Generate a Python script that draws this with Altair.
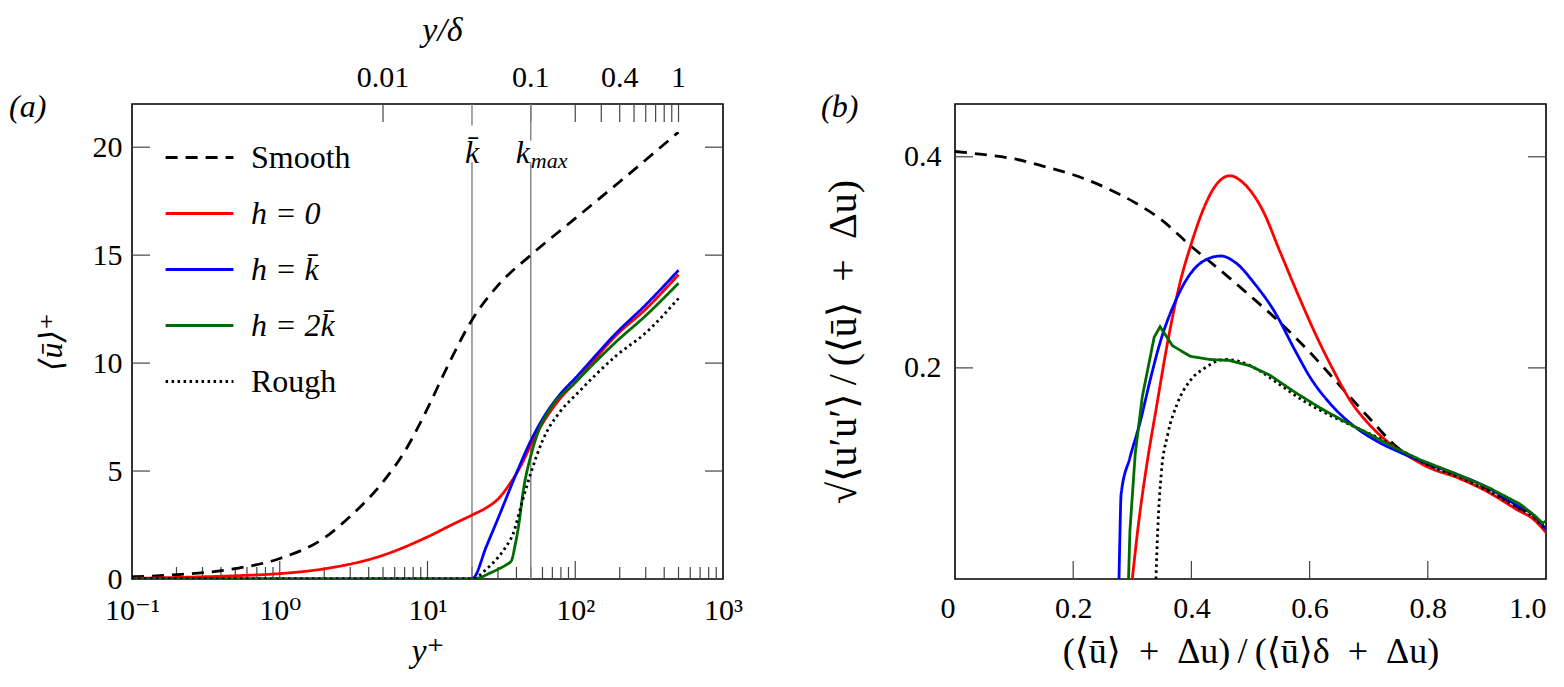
import altair as alt
import pandas as pd

FONT = "Liberation Serif, Times New Roman, Times, DejaVu Serif, serif"

SERIES = ["Smooth", "h = 0", "h = k̄", "h = 2k̄", "Rough"]
COLORS = ["black", "#ff0000", "#0000ff", "#006b00", "black"]
DASHES = [[12, 8], [1, 0], [1, 0], [1, 0], [2.5, 3.5]]

# ---- panel (a): <u>+ against y+ ----
smooth_yp = [0.1, 0.2, 0.5, 1, 2, 3, 5, 7, 10, 14, 20, 30, 50, 100, 200, 500]
smooth_u = [0.1, 0.2, 0.48, 0.95, 1.9, 2.9, 4.5, 5.9, 7.9, 10.0, 12.0, 13.6, 15.0, 16.7, 18.4, 20.7]

h0_yp = [0.1, 0.2, 0.5, 1, 2, 5, 10, 15, 20, 25, 30, 36, 44, 50, 60, 80, 100, 190, 300, 500]
h0_u = [0.03, 0.07, 0.15, 0.25, 0.47, 1.1, 1.95, 2.55, 2.96, 3.3, 3.7, 4.4, 5.4, 6.2, 7.2, 8.4, 9.1, 11.3, 12.5, 14.1]

hk_yp = [0.1, 1, 10, 19.5, 20.5, 25, 30, 40, 50, 60, 80, 100, 190, 300, 500]
hk_u = [0, 0, 0, 0, 0.05, 1.5, 2.8, 4.9, 6.4, 7.4, 8.6, 9.3, 11.4, 12.7, 14.3]

h2k_yp = [0.1, 10, 20, 23, 26, 30, 34, 37, 39, 41, 45, 50, 56, 68, 100, 190, 300, 500]
h2k_u = [0, 0, 0, 0.08, 0.25, 0.45, 0.65, 0.85, 1.5, 2.3, 4.3, 5.7, 6.8, 7.9, 9.1, 11.0, 12.2, 13.7]

rough_yp = [0.1, 10, 20, 25, 30, 34, 38, 43, 50, 60, 80, 100, 190, 300, 500]
rough_u = [0, 0, 0, 0.45, 1.0, 1.5, 2.1, 3.4, 4.9, 6.4, 7.8, 8.5, 10.35, 11.4, 13.0]

k_bar = 20
k_max = 50
delta_plus = 500

yplus_ticks = [0.1, 1, 10, 100, 1000]
yplus_labels = ["10⁻¹", "10⁰", "10¹", "10²", "10³"]
decades = [0.1, 1, 10, 100]
mantissas = [2, 3, 4, 5, 6, 7, 8, 9]
u_ticks = [0, 5, 10, 15, 20]
ydelta_labelled = [0.01, 0.1, 0.4, 1]
ydelta_ticks = [0.01, 0.1, 0.2, 0.3, 0.4, 0.5, 0.6, 0.7, 0.8, 0.9, 1]

# ---- panel (b): diagnostic plot ----
smooth_x = [0.0, 0.05, 0.1, 0.15, 0.2, 0.25, 0.3, 0.35, 0.4, 0.45, 0.5, 0.55, 0.6, 0.65, 0.7, 0.75, 0.8, 0.85, 0.9, 0.95, 0.98, 1.0]
smooth_r = [0.405, 0.402, 0.398, 0.391, 0.383, 0.372, 0.358, 0.34, 0.315, 0.292, 0.268, 0.243, 0.215, 0.184, 0.153, 0.124, 0.108, 0.097, 0.085, 0.068, 0.058, 0.047]

h0_x = [0.300, 0.31, 0.325, 0.34, 0.36, 0.38, 0.40, 0.42, 0.44, 0.465, 0.49, 0.52, 0.55, 0.58, 0.61, 0.64, 0.67, 0.70, 0.73, 0.76, 0.80, 0.85, 0.90, 0.95, 0.98, 1.0]
h0_r = [0.0, 0.05, 0.11, 0.16, 0.225, 0.279, 0.318, 0.350, 0.372, 0.382, 0.374, 0.350, 0.31, 0.27, 0.232, 0.198, 0.168, 0.147, 0.131, 0.119, 0.106, 0.096, 0.083, 0.066, 0.056, 0.044]

hk_x = [0.2775, 0.279, 0.281, 0.296, 0.313, 0.33, 0.347, 0.372, 0.398, 0.423, 0.45, 0.474, 0.508, 0.541, 0.575, 0.601, 0.635, 0.677, 0.719, 0.753, 0.80, 0.85, 0.90, 0.95, 0.98, 1.0]
hk_r = [0.0, 0.04, 0.08, 0.115, 0.148, 0.188, 0.224, 0.262, 0.289, 0.302, 0.306, 0.300, 0.279, 0.253, 0.217, 0.191, 0.166, 0.144, 0.129, 0.120, 0.109, 0.099, 0.087, 0.070, 0.060, 0.047]

h2k_x = [0.2936, 0.296, 0.305, 0.317, 0.337, 0.347, 0.368, 0.398, 0.431, 0.465, 0.499, 0.533, 0.575, 0.618, 0.660, 0.702, 0.745, 0.787, 0.846, 0.905, 0.956, 0.981, 0.994, 1.0]
h2k_r = [0.0, 0.046, 0.119, 0.173, 0.229, 0.239, 0.221, 0.211, 0.208, 0.207, 0.202, 0.193, 0.177, 0.162, 0.149, 0.137, 0.124, 0.113, 0.100, 0.086, 0.071, 0.060, 0.053, 0.055]

rough_x = [0.340, 0.343, 0.349, 0.36, 0.376, 0.398, 0.423, 0.457, 0.482, 0.516, 0.550, 0.592, 0.635, 0.677, 0.719, 0.761, 0.80, 0.85, 0.90, 0.95, 0.98, 1.0]
rough_r = [0.0, 0.046, 0.100, 0.137, 0.166, 0.188, 0.200, 0.208, 0.206, 0.197, 0.184, 0.168, 0.155, 0.144, 0.133, 0.120, 0.108, 0.097, 0.084, 0.068, 0.058, 0.046]

b_x_ticks = [0, 0.2, 0.4, 0.6, 0.8, 1.0]
b_y_ticks = [0.2, 0.4]

W, H = 591, 475
MAJ, MIN = 18, 12
TICK_COLOR = "#444444"
LW = 2.8
THIN, EN = "\u2009", "\u2002"


def stack(pairs, xname, yname):
    frames = []
    for name, xs, ys in pairs:
        frames.append(pd.DataFrame({xname: xs, yname: ys, "series": name}))
    return pd.concat(frames, ignore_index=True)


df_a = stack(
    [
        ("Smooth", smooth_yp, smooth_u),
        ("h = 0", h0_yp, h0_u),
        ("h = k̄", hk_yp, hk_u),
        ("h = 2k̄", h2k_yp, h2k_u),
        ("Rough", rough_yp, rough_u),
    ],
    "yp",
    "u",
)
df_b = stack(
    [
        ("Smooth", smooth_x, smooth_r),
        ("h = 0", h0_x, h0_r),
        ("h = k̄", hk_x, hk_r),
        ("h = 2k̄", h2k_x, h2k_r),
        ("Rough", rough_x, rough_r),
    ],
    "x",
    "r",
)

xa = alt.Scale(type="log", domain=[0.1, 1000])
ya = alt.Scale(domain=[0, 22])
xb = alt.Scale(domain=[0, 1])
yb = alt.Scale(domain=[0, 0.45])

color_scale = alt.Scale(domain=SERIES, range=COLORS)
dash_scale = alt.Scale(domain=SERIES, range=DASHES)

legend = alt.Legend(
    title=None,
    orient="none",
    legendX=32,
    legendY=18,
    symbolType="stroke",
    symbolSize=4600,
    symbolStrokeWidth=3,
    labelFont=FONT,
    labelFontSize=32,
    labelFontStyle=alt.ExprRef(
        "datum.value == 'Smooth' || datum.value == 'Rough' ? 'normal' : 'italic'"
    ),
    labelLimit=300,
    rowPadding=4,
    labelOffset=16,
    padding=0,
)

label_expr = "['10⁻¹','10⁰','10¹','10²','10³'][round(log(datum.value)/LN10)+1]"

lines_a = (
    alt.Chart(df_a)
    .mark_line(strokeWidth=LW, interpolate="monotone", clip=True)
    .encode(
        x=alt.X(
            "yp:Q",
            scale=xa,
            axis=alt.Axis(
                values=yplus_ticks,
                labelExpr=label_expr,
                labelFlush=False,
                title="y⁺",
                titleFontStyle="italic",
                titleFontSize=34,
                labelPadding=16,
                titlePadding=9,
            ),
        ),
        y=alt.Y(
            "u:Q",
            scale=ya,
            axis=alt.Axis(
                values=u_ticks,
                title="⟨ū⟩⁺",
                titleFontStyle="italic",
                titleFontSize=32,
                labelPadding=10,
                titlePadding=24,
            ),
        ),
        color=alt.Color("series:N", scale=color_scale, legend=legend),
        strokeDash=alt.StrokeDash("series:N", scale=dash_scale, legend=legend),
        detail="series:N",
    )
)

vlines = pd.DataFrame(
    {
        "yp": [k_bar, k_bar, k_max, k_max],
        "lo": [0, 21.0, 0, 20.3],
        "hi": [19.3, 22, 19.3, 22],
    }
)
vrule = alt.Chart(vlines).mark_rule(color="#808080", strokeWidth=1.4).encode(
    x=alt.X("yp:Q", scale=xa), y=alt.Y("lo:Q", scale=ya), y2="hi:Q"
)

klab = pd.DataFrame({"yp": [k_bar], "u": [19.75], "t": ["k̄"]})
kbar_text = alt.Chart(klab).mark_text(
    font=FONT, fontSize=32, fontStyle="italic", baseline="middle"
).encode(x=alt.X("yp:Q", scale=xa), y=alt.Y("u:Q", scale=ya), text="t:N")

kmlab = pd.DataFrame({"yp": [k_max], "u": [19.75], "k": ["k"], "sub": ["max"]})
kmax_k = alt.Chart(kmlab).mark_text(
    font=FONT, fontSize=32, fontStyle="italic", baseline="middle", align="left", dx=-15
).encode(x=alt.X("yp:Q", scale=xa), y=alt.Y("u:Q", scale=ya), text="k:N")
kmax_sub = alt.Chart(kmlab).mark_text(
    font=FONT, fontSize=22, fontStyle="italic", baseline="middle", align="left", dx=0, dy=8
).encode(x=alt.X("yp:Q", scale=xa), y=alt.Y("u:Q", scale=ya), text="sub:N")

# inward ticks of panel (a)
minor_a = pd.DataFrame({"yp": [d * m for d in decades for m in mantissas]})
major_a = pd.DataFrame({"yp": yplus_ticks[1:-1]})
bot_minor = alt.Chart(minor_a).mark_rule(color=TICK_COLOR, strokeWidth=1.2).encode(
    x=alt.X("yp:Q", scale=xa), y=alt.value(H), y2=alt.value(H - MIN)
)
bot_major = alt.Chart(major_a).mark_rule(color=TICK_COLOR, strokeWidth=1.2).encode(
    x=alt.X("yp:Q", scale=xa), y=alt.value(H), y2=alt.value(H - MAJ)
)
top_df = pd.DataFrame({"yp": [v * delta_plus for v in ydelta_ticks]})
top_ticks = alt.Chart(top_df).mark_rule(color=TICK_COLOR, strokeWidth=1.2).encode(
    x=alt.X("yp:Q", scale=xa), y=alt.value(0), y2=alt.value(MAJ)
)
top_lab_df = pd.DataFrame(
    {"yp": [v * delta_plus for v in ydelta_labelled], "t": [str(v) for v in ydelta_labelled]}
)
top_labels = alt.Chart(top_lab_df).mark_text(
    font=FONT, fontSize=30, baseline="bottom"
).encode(x=alt.X("yp:Q", scale=xa), y=alt.value(-11), text="t:N")
top_title = alt.Chart(pd.DataFrame({"t": ["y/δ"]})).mark_text(
    font=FONT, fontSize=34, fontStyle="italic", baseline="middle"
).encode(x=alt.value(W / 2 + 15), y=alt.value(-73), text="t:N")

ya_df = pd.DataFrame({"u": u_ticks[1:]})
left_a = alt.Chart(ya_df).mark_rule(color=TICK_COLOR, strokeWidth=1.2).encode(
    y=alt.Y("u:Q", scale=ya), x=alt.value(0), x2=alt.value(MAJ)
)
right_a = alt.Chart(ya_df).mark_rule(color=TICK_COLOR, strokeWidth=1.2).encode(
    y=alt.Y("u:Q", scale=ya), x=alt.value(W), x2=alt.value(W - MAJ)
)
tag_a = alt.Chart(pd.DataFrame({"t": ["(a)"]})).mark_text(
    font=FONT, fontSize=32, fontStyle="italic", align="left", baseline="middle"
).encode(x=alt.value(-123), y=alt.value(3), text="t:N")

panel_a = alt.layer(
    bot_minor, bot_major, top_ticks, left_a, right_a, vrule, lines_a,
    kbar_text, kmax_k, kmax_sub, top_labels, top_title, tag_a,
).properties(width=W, height=H)

# ---- panel (b) ----
x_b = alt.X(
    "x:Q",
    scale=xb,
    axis=alt.Axis(
        values=b_x_ticks,
        labelExpr="datum.value == 0 ? '0' : format(datum.value, '.1f')",
        labelFlush=False,
        labelAlign={
            "condition": {"test": "datum.value == 0 || datum.value == 1", "value": "right"},
            "value": "center",
        },
        title=f"(⟨ū⟩{EN}+{EN}Δu){THIN}/{THIN}(⟨ū⟩δ{EN}+{EN}Δu)",
        titleFontSize=36,
        labelPadding=14,
        titlePadding=11,
    ),
)
y_b = alt.Y(
    "r:Q",
    scale=yb,
    axis=alt.Axis(
        values=b_y_ticks,
        format=".1f",
        title=f"√⟨u′u′⟩{THIN}/{THIN}(⟨ū⟩{EN}+{EN}Δu)",
        titleFontSize=40,
        labelPadding=14,
        titlePadding=40,
    ),
)
base_b = alt.Chart(df_b).encode(
    x=x_b,
    y=y_b,
    color=alt.Color("series:N", scale=color_scale, legend=None),
    strokeDash=alt.StrokeDash("series:N", scale=dash_scale, legend=None),
    detail="series:N",
)
smooth_lines_b = base_b.transform_filter(alt.datum.series != "h = 2k̄").mark_line(
    strokeWidth=LW, interpolate="monotone", clip=True
)
kinked_line_b = base_b.transform_filter(alt.datum.series == "h = 2k̄").mark_line(
    strokeWidth=LW, clip=True
)

bx_df = pd.DataFrame({"x": b_x_ticks[1:-1]})
by_df = pd.DataFrame({"r": b_y_ticks})
bot_b = alt.Chart(bx_df).mark_rule(color=TICK_COLOR, strokeWidth=1.2).encode(
    x=alt.X("x:Q", scale=xb), y=alt.value(H), y2=alt.value(H - MAJ)
)
left_b = alt.Chart(by_df).mark_rule(color=TICK_COLOR, strokeWidth=1.2).encode(
    y=alt.Y("r:Q", scale=yb), x=alt.value(0), x2=alt.value(MAJ)
)
right_b = alt.Chart(by_df).mark_rule(color=TICK_COLOR, strokeWidth=1.2).encode(
    y=alt.Y("r:Q", scale=yb), x=alt.value(W), x2=alt.value(W - MAJ)
)
tag_b = alt.Chart(pd.DataFrame({"t": ["(b)"]})).mark_text(
    font=FONT, fontSize=32, fontStyle="italic", align="left", baseline="middle"
).encode(x=alt.value(-134), y=alt.value(3), text="t:N")

panel_b = alt.layer(
    bot_b, left_b, right_b, smooth_lines_b, kinked_line_b, tag_b
).properties(width=W, height=H)

chart = (
    alt.hconcat(panel_a, panel_b, spacing=76)
    .resolve_scale(color="independent", strokeDash="independent")
    .properties(padding={"left": 0, "top": 5, "right": 0, "bottom": 0})
    .configure_axis(
        labelFont=FONT,
        titleFont=FONT,
        labelFontSize=30,
        titleFontSize=30,
        titleFontWeight="normal",
        labelColor="black",
        titleColor="black",
        ticks=False,
        domain=False,
        grid=False,
    )
    .configure_view(stroke="black", strokeWidth=1.6)
    .configure_text(font=FONT, color="black")
)

chart.save("out.html", embed_options={"renderer": "svg", "actions": False})
